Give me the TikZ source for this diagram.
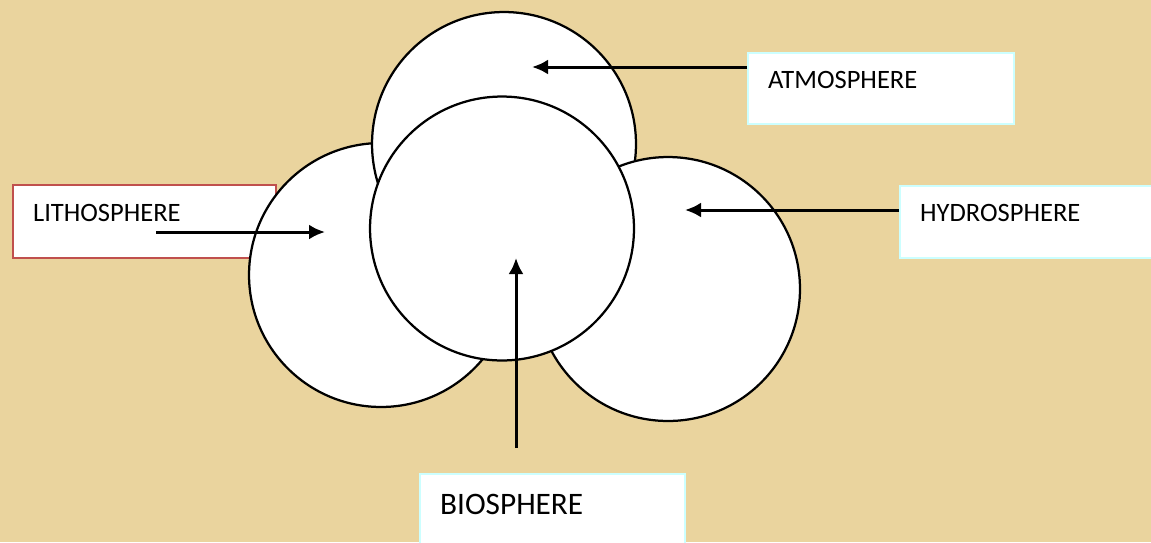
\documentclass[tikz,border=0pt]{standalone}
\usepackage{fontspec}
\setmainfont{Carlito}
\usetikzlibrary{arrows.meta}
\definecolor{papyrus}{RGB}{234,212,158}
\definecolor{redline}{RGB}{192,80,77}
\definecolor{cyanline}{RGB}{204,255,255}
\tikzset{%
  sphere/.style   = {shape=circle, draw, fill=white, line width=0.045cm,%
                     minimum size=5.28cm, inner sep=0pt},%
  namebox/.style  = {shape=rectangle, draw=cyanline, fill=white, line width=0.045cm,%
                     anchor=north west, align=left, inner ysep=0pt, inner xsep=0.4cm,%
                     font=\fontsize{15.1}{16}\selectfont},%
  pointer/.style  = {line width=0.06cm, -{Latex[length=0.32cm,width=0.3cm]}}%
}
\begin{document}
\begin{tikzpicture}[x=0.02cm,y=-0.02cm]
		\useasboundingbox (0,0) rectangle (1151,542);
		\clip (0,0) rectangle (1151,542);
		\fill [papyrus] (0,0) rectangle (1151,542);
		% box behind the lithosphere
		\node [namebox, draw=redline, text width=4.46cm, text height=0.72cm, text depth=0.74cm] (lithobox) at (12,184) {LITHOSPHERE};
		% the four spheres
		\node [sphere] (litho) at (381,275) {};
		\node [sphere] (atmo) at (504,144) {};
		\node [sphere] (hydro) at (668,289) {};
		\node [sphere] (bio) at (502,228.5) {};
		% other boxes
		\node [namebox, text width=4.52cm, text height=0.70cm, text depth=0.72cm] (atmobox) at (747,52) {ATMOSPHERE};
		\node [namebox, text width=4.52cm, text height=0.70cm, text depth=0.74cm] (hydrobox) at (899,185) {HYDROSPHERE};
		\node [namebox, text width=4.5cm, text height=0.80cm, text depth=0.9cm, font=\fontsize{17.8}{19}\selectfont] (biobox) at (419,473) {BIOSPHERE};
		% arrows
		\coordinate (atmofrom) at (747,67);
		\coordinate (atmoto) at (532,67);
		\coordinate (lithofrom) at (156,232);
		\coordinate (lithoto) at (325,232);
		\coordinate (hydrofrom) at (899,210);
		\coordinate (hydroto) at (685,210);
		\coordinate (biofrom) at (516,448);
		\coordinate (bioto) at (516,258);
		\draw [pointer] (atmofrom) -- (atmoto);
		\draw [pointer] (lithofrom) -- (lithoto);
		\draw [pointer] (hydrofrom) -- (hydroto);
		\draw [pointer] (biofrom) -- (bioto);
	\end{tikzpicture}
\end{document}
